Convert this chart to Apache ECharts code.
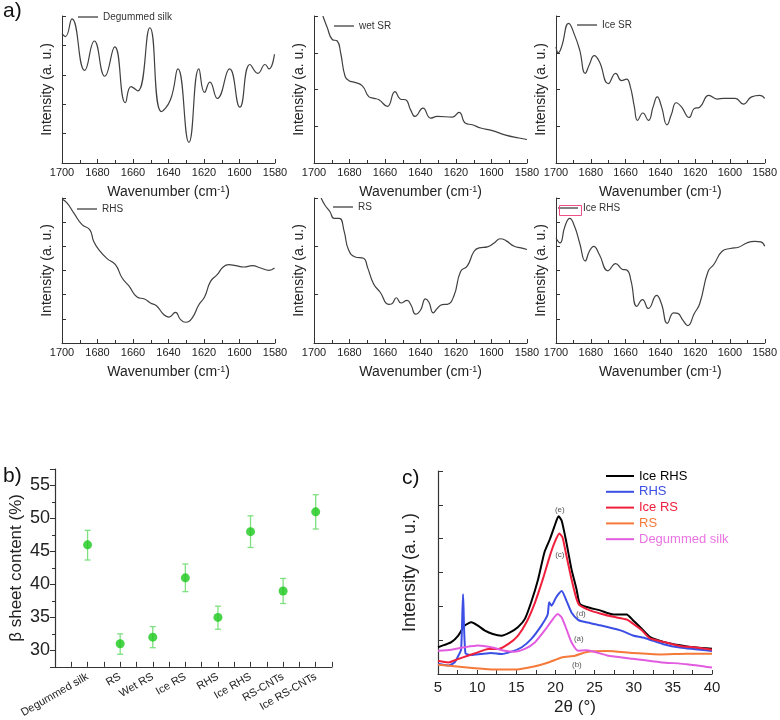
<!DOCTYPE html>
<html>
<head>
<meta charset="utf-8">
<script src="https://cdn.jsdelivr.net/npm/echarts@6/dist/echarts.min.js"></script>
<style>html,body{margin:0;padding:0;background:#fff}#c{width:780px;height:720px}</style>
</head>
<body>
<div id="c"></div>
<script>
// ---------- panel a: FTIR amide I (wavenumber, relative intensity 0-100) ----------
const ftirDegummed = [[1700,88],[1698.1,86],[1694.4,98],[1687.2,63],[1681.8,83],[1675.9,59],[1670.3,79],[1664.3,41],[1661.1,52],[1657.3,49],[1650.5,92],[1644,35],[1638.9,43],[1634.7,64],[1628.5,14],[1622.9,64],[1619.7,48],[1616.7,55],[1612.5,44],[1605.6,64],[1599.8,38],[1594.1,67],[1589.6,61],[1585.6,67],[1583.4,64],[1580.3,74]];
const ftirWetSR = [[1695,100],[1692.5,92],[1689.7,84],[1686.9,83],[1685,75],[1682.5,59],[1680.3,56],[1677.5,55],[1672.8,52.5],[1669,45],[1666.2,44],[1663.4,43],[1658.7,38.5],[1654.4,48.6],[1651.2,43.4],[1648.4,43],[1645.5,36],[1643.1,31.7],[1638.6,37.3],[1634.3,30.5],[1630.5,31.7],[1622,31.2],[1618.3,34.4],[1614.6,27],[1610.8,26],[1606.1,23.8],[1599.5,22],[1592,19],[1584.5,17],[1580,16]];
const ftirIceSR = [[1700,79],[1698.7,75],[1696.8,79],[1692.7,95],[1689.3,87],[1686.4,77],[1683.2,61],[1680.8,67],[1678,73],[1675.1,69],[1669.9,54],[1665.7,61],[1662.3,56],[1659.5,57],[1657.3,52],[1655,38.5],[1653.1,29],[1650.1,34],[1646.9,29],[1644.1,38.5],[1641.8,45],[1639.4,38.5],[1636.2,26],[1633.7,33],[1630.9,41],[1628.1,38.5],[1623.4,31],[1620.6,37],[1617.4,38],[1612.1,46],[1607.3,43.5],[1603.6,44],[1597,44],[1592.3,40],[1587.6,45],[1582.8,46],[1580,44]];
const ftirRHS = [[1700,99.3],[1697.2,96.6],[1693.4,89.7],[1688.7,81.6],[1684.4,78.2],[1682.1,70],[1679.3,64.4],[1674.6,58.2],[1669.9,54],[1666.1,44.8],[1662.4,39.5],[1657.7,31.7],[1653.5,30.3],[1650.2,27.6],[1646.8,25.7],[1642.6,19.5],[1639.8,17.9],[1636.1,21.1],[1633.2,16.1],[1630.4,14.3],[1626.7,17.2],[1622.9,26.4],[1619.7,31.7],[1616.3,42.5],[1612.6,47.1],[1609.2,52.4],[1606,54],[1602.2,53.3],[1597.5,52.4],[1592.8,53.3],[1588.1,51.7],[1583.4,50.1],[1580.3,51.7]];
const ftirRS = [[1696,100],[1693.8,95],[1691,90.5],[1688.7,86],[1685.7,86],[1683,77],[1680.6,64.5],[1676.8,59.3],[1672.1,58.4],[1669.8,52],[1666.4,40.7],[1662.7,35],[1658,26.7],[1656.1,27.1],[1653.6,31.2],[1651,27.6],[1647.6,29.4],[1645.3,26],[1642.8,19.9],[1640,22.6],[1637.2,30.5],[1635.3,28.3],[1632.8,20.8],[1630.6,23.8],[1627.7,26.5],[1624.9,26.7],[1621.1,32.8],[1617.4,49.3],[1613.6,53.2],[1609.8,63.3],[1607,65.6],[1602.3,66.3],[1598.5,69],[1595.1,71.9],[1591.9,70.6],[1587.2,66.7],[1583.4,65.6],[1580,64.5]];
const ftirIceRHS = [[1700,72.4],[1697.7,69],[1694.9,80.3],[1692.1,86],[1689.3,80.3],[1686.4,69],[1683.2,56.6],[1680.8,63.3],[1678.3,66.7],[1675.1,61],[1670.1,49.8],[1665.7,54.8],[1662,50.9],[1659.1,50.2],[1656.9,43],[1653.5,25.3],[1650.3,29.9],[1646.9,23.8],[1642.2,32.8],[1639.4,27.1],[1636,13.6],[1632.4,20.8],[1630,20.4],[1627.1,15.8],[1624.3,12],[1620.5,20.4],[1617.4,27.1],[1612.6,49.3],[1609.2,54.3],[1604.5,63.3],[1599.8,65.2],[1595.1,66],[1590.4,69],[1585.7,70.1],[1582.3,69.7],[1580,66.7]];
const ftirNames = ['Degummed silk', 'wet SR', 'Ice SR', 'RHS', 'RS', 'Ice RHS'];
const ftirSets = [ftirDegummed, ftirWetSR, ftirIceSR, ftirRHS, ftirRS, ftirIceRHS];
const ftirTickSplits = [5, 4, 4, 6, 3, 6];

// ---------- panel b: beta sheet content ----------
const betaCategories = ['Degummed silk', 'RS', 'Wet RS', 'Ice RS', 'RHS', 'Ice RHS', 'RS-CNTs', 'Ice RS-CNTs'];
const betaMean = [46, 31, 32, 41, 35, 48, 39, 51];
const betaLow = [43.7, 29.4, 30.4, 38.9, 33.2, 45.6, 37.1, 48.4];
const betaHigh = [48.2, 32.5, 33.6, 43.1, 36.7, 50.4, 40.9, 53.6];

// ---------- panel c: XRD (2theta, intensity a.u.) ----------
const xrdIceRHS = [[5,0.79],[5.85,0.86],[6.7,0.94],[7.56,1.13],[8.4,1.43],[9.26,1.53],[10.1,1.43],[11,1.28],[12,1.18],[13.1,1.13],[14.2,1.23],[15.2,1.38],[16.1,1.63],[16.9,2.12],[17.8,2.81],[18.6,3.6],[19.3,3.99],[19.9,4.38],[20.4,4.66],[20.8,4.53],[21.4,3.89],[22.05,3.1],[22.7,2.5],[23.1,2.08],[24,1.98],[25.7,1.88],[27.4,1.76],[29.1,1.76],[29.9,1.59],[30.8,1.39],[32.1,1.09],[33.8,0.95],[35.9,0.85],[38,0.78],[40,0.75]];
const xrdRHS = [[5,0.3],[6.3,0.25],[7.1,0.34],[7.6,0.54],[7.95,0.72],[8.2,2.36],[8.5,0.62],[9.26,0.56],[10.5,0.59],[11.8,0.62],[13.1,0.59],[14.4,0.66],[15.7,0.79],[16.9,1.03],[18.2,1.43],[19.0,1.75],[19.2,2.12],[19.5,2.02],[20.1,2.27],[20.8,2.45],[21.4,2.17],[22.05,1.82],[22.9,1.6],[23.5,1.55],[25.7,1.44],[28.3,1.29],[29.9,1.14],[31.6,1.05],[33.8,0.88],[35.9,0.78],[40,0.68]];
const xrdIceRS = [[5,0.39],[6.3,0.34],[7.56,0.44],[8.8,0.54],[10.1,0.64],[11.4,0.74],[12.7,0.74],[14,0.89],[15.2,1.13],[16.3,1.53],[17.4,2.12],[18.4,2.81],[19.3,3.5],[19.9,3.89],[20.5,4.15],[20.9,4.04],[21.4,3.5],[22.05,2.81],[22.7,2.22],[23.1,2.03],[24.4,1.88],[25.7,1.79],[27.4,1.69],[29.1,1.61],[29.9,1.49],[31,1.3],[32.1,1.05],[33.8,0.95],[35.9,0.83],[38,0.78],[40,0.72]];
const xrdRS = [[5,0.27],[7.1,0.23],[9.7,0.17],[12.2,0.13],[14.8,0.13],[17.4,0.23],[19.1,0.34],[20.8,0.49],[22.5,0.54],[24,0.65],[26.6,0.68],[29.9,0.62],[33.4,0.58],[36.8,0.6],[40,0.6]];
const xrdDegummed = [[5,0.69],[6.7,0.72],[8.4,0.79],[10.1,0.84],[11.8,0.79],[13.5,0.69],[14.8,0.66],[16.1,0.74],[17.4,0.94],[18.6,1.28],[19.7,1.63],[20.3,1.77],[20.8,1.67],[21.4,1.33],[22.05,0.94],[22.9,0.69],[24,0.7],[26.6,0.55],[29.9,0.45],[33.4,0.35],[36.8,0.29],[40,0.19]];
const xrdNames = ['Ice RHS', 'RHS', 'Ice RS', 'RS', 'Degummed silk'];
const xrdSets = [xrdIceRHS, xrdRHS, xrdIceRS, xrdRS, xrdDegummed];
const xrdColors = ['#000000', '#3b4fe4', '#f0203c', '#f57a3a', '#e25ce0'];
const xrdTextColors = ['#000000', '#3b4fe4', '#f0203c', '#f57a3a', '#ea74e4'];
const xrdTags = [['(e)', 20.56, 4.84], ['(c)', 20.56, 3.51], ['(d)', 23.25, 1.79], ['(a)', 22.99, 1.03], ['(b)', 22.74, 0.26]];

// ---------- layout ----------
const FONT = "'Liberation Sans', Arial, sans-serif";
const AX = '#333';
const ftirGrids = [
  {left: 62, top: 16, width: 213, height: 147},
  {left: 314, top: 16, width: 213, height: 147},
  {left: 556, top: 16, width: 212, height: 147},
  {left: 62, top: 198, width: 213, height: 145},
  {left: 314, top: 198, width: 213, height: 145},
  {left: 556, top: 198, width: 212, height: 145}
];
const legendPos = [[78, 12], [334, 21], [577, 20], [77, 204], [333, 202], [558, 203]];

const grid = ftirGrids.concat([
  {left: 55, top: 469, width: 277, height: 204},
  {left: 438, top: 471, width: 274, height: 203}
]);

const xAxis = [], yAxis = [], series = [], legend = [];
ftirSets.forEach((d, i) => {
  xAxis.push({
    type: 'value', gridIndex: i, min: 1580, max: 1700, interval: 20, inverse: true,
    axisLine: {show: true, lineStyle: {color: AX, width: 1}},
    axisTick: {show: true, inside: true, length: 4, lineStyle: {color: AX}},
    minorTick: {show: true, splitNumber: 2, length: 3, lineStyle: {color: AX}},
    splitLine: {show: false},
    axisLabel: {fontSize: 11, color: '#222', margin: 4, fontFamily: FONT, formatter: v => String(v)},
    name: 'Wavenumber (cm{s|-1})', nameLocation: 'middle', nameGap: 22,
    nameTextStyle: {fontSize: 14, color: '#222', fontFamily: FONT,
      rich: {s: {fontSize: 9, verticalAlign: 'top', color: '#222', fontFamily: FONT, padding: [0, 0, 6, 0]}}}
  });
  yAxis.push({
    type: 'value', gridIndex: i, min: 0, max: 100, interval: 100 / ftirTickSplits[i],
    axisLine: {show: true, lineStyle: {color: AX, width: 1}},
    axisTick: {show: true, inside: true, length: 4, lineStyle: {color: AX}},
    axisLabel: {show: false}, splitLine: {show: false},
    name: 'Intensity (a. u.)', nameLocation: 'middle', nameGap: 8,
    nameTextStyle: {fontSize: 14, color: '#222', fontFamily: FONT}
  });
  const nm = ftirNames[i] + ' ';
  series.push({
    type: 'line', name: nm, xAxisIndex: i, yAxisIndex: i, data: d,
    symbol: 'none', smooth: 0.5, lineStyle: {color: '#404040', width: 1.2},
    itemStyle: {color: '#404040'}, silent: true
  });
  legend.push({
    data: [nm], left: legendPos[i][0], top: legendPos[i][1], padding: 0,
    icon: 'rect', itemWidth: 20, itemHeight: 1.3, formatter: n => n.trim(), selectedMode: false,
    textStyle: {fontSize: 10, color: '#333', fontFamily: FONT, lineHeight: 10}
  });
});

// panel b axes
xAxis.push({
  type: 'value', gridIndex: 6, min: 0, max: 8.5, interval: 0.5,
  axisLine: {show: true, lineStyle: {color: AX, width: 1.2}},
  axisTick: {show: true, inside: true, length: 5, lineStyle: {color: AX}},
  splitLine: {show: false},
  axisLabel: {rotate: 30, fontSize: 11, color: '#222', margin: 9, fontFamily: FONT,
    formatter: v => (Number.isInteger(v) && v >= 1 && v <= betaCategories.length) ? betaCategories[v - 1] : ''}
});
yAxis.push({
  type: 'value', gridIndex: 6, min: 27.5, max: 57.5, splitNumber: 6,
  axisLine: {show: true, lineStyle: {color: AX, width: 1.2}},
  axisTick: {show: true, inside: false, length: 5, lineStyle: {color: AX}},
  minorTick: {show: true, splitNumber: 2, length: 3, lineStyle: {color: AX}},
  splitLine: {show: false},
  axisLabel: {fontSize: 18, color: '#222', margin: 5, fontFamily: FONT,
    formatter: v => (v % 5 === 0) ? String(v) : ''},
  name: 'β sheet content (%)', nameLocation: 'middle', nameGap: 30,
  nameTextStyle: {fontSize: 17, color: '#222', fontFamily: FONT}
});
series.push({
  type: 'custom', xAxisIndex: 6, yAxisIndex: 6, silent: true, z: 2,
  data: betaMean.map((m, i) => [i + 1, betaLow[i], betaHigh[i]]),
  renderItem: (params, api) => {
    const top = api.coord([api.value(0), api.value(2)]);
    const bot = api.coord([api.value(0), api.value(1)]);
    const w = 3;
    const st = {stroke: '#7fe07f', lineWidth: 1.3};
    return {type: 'group', children: [
      {type: 'line', shape: {x1: top[0], y1: top[1], x2: bot[0], y2: bot[1]}, style: st},
      {type: 'line', shape: {x1: top[0] - w, y1: top[1], x2: top[0] + w, y2: top[1]}, style: st},
      {type: 'line', shape: {x1: bot[0] - w, y1: bot[1], x2: bot[0] + w, y2: bot[1]}, style: st}
    ]};
  }
});
series.push({
  type: 'scatter', xAxisIndex: 6, yAxisIndex: 6, z: 3, silent: true,
  data: betaMean.map((m, i) => [i + 1, m]),
  symbolSize: 9, itemStyle: {color: '#1cc81c'}
});

// panel c axes
xAxis.push({
  type: 'value', gridIndex: 7, min: 5, max: 40, interval: 5,
  axisLine: {show: true, lineStyle: {color: AX, width: 1.2}},
  axisTick: {show: true, inside: true, length: 4, lineStyle: {color: AX}},
  minorTick: {show: true, splitNumber: 2, length: 4, lineStyle: {color: AX}},
  splitLine: {show: false},
  axisLabel: {fontSize: 15, color: '#222', margin: 6, fontFamily: FONT},
  name: '2θ (°)', nameLocation: 'middle', nameGap: 25,
  nameTextStyle: {fontSize: 17, color: '#222', fontFamily: FONT}
});
yAxis.push({
  type: 'value', gridIndex: 7, min: 0, max: 6, interval: 1,
  axisLine: {show: true, lineStyle: {color: AX, width: 1.2}},
  axisTick: {show: true, inside: true, length: 5, lineStyle: {color: AX}},
  axisLabel: {show: false}, splitLine: {show: false},
  name: 'Intensity (a. u.)', nameLocation: 'middle', nameGap: 19,
  nameTextStyle: {fontSize: 18, color: '#222', fontFamily: FONT}
});
xrdSets.forEach((d, i) => {
  const s = {
    type: 'line', name: xrdNames[i], xAxisIndex: 7, yAxisIndex: 7, data: d,
    symbol: 'none', smooth: 0.2, lineStyle: {color: xrdColors[i], width: 2},
    itemStyle: {color: xrdColors[i]}, silent: true
  };
  if (i === 0) {
    s.markPoint = {
      symbol: 'circle', symbolSize: 0, silent: true,
      label: {show: true, position: 'inside', fontSize: 8, color: '#555', fontFamily: FONT,
        formatter: p => p.name},
      data: xrdTags.map(t => ({name: t[0], coord: [t[1], t[2]]}))
    };
  }
  series.push(s);
});
legend.push({
  data: xrdNames.map((n, i) => ({name: n, textStyle: {color: xrdTextColors[i]}})),
  orient: 'vertical', left: 606, top: 469, padding: 0, selectedMode: false,
  icon: 'rect', itemWidth: 28, itemHeight: 2, itemGap: 1.8,
  textStyle: {fontSize: 13, fontFamily: FONT, lineHeight: 14}
});

const option = {
  animation: false,
  backgroundColor: '#fff',
  textStyle: {fontFamily: FONT},
  title: [
    {text: 'a)', left: 3, top: 1, padding: 0, textStyle: {fontSize: 21, fontWeight: 'normal', color: '#111', fontFamily: FONT}},
    {text: 'b)', left: 3, top: 466, padding: 0, textStyle: {fontSize: 21, fontWeight: 'normal', color: '#111', fontFamily: FONT}},
    {text: 'c)', left: 402, top: 468, padding: 0, textStyle: {fontSize: 21, fontWeight: 'normal', color: '#111', fontFamily: FONT}}
  ],
  graphic: [
    {type: 'rect', left: 557, top: 203, z: 100, shape: {width: 22, height: 10}, style: {fill: 'none', stroke: '#f0508a', lineWidth: 1}}
  ],
  grid, xAxis, yAxis, series, legend
};
const chart = echarts.init(document.getElementById('c'), null, {renderer: 'canvas'});
chart.setOption(option);
</script>
</body>
</html>
